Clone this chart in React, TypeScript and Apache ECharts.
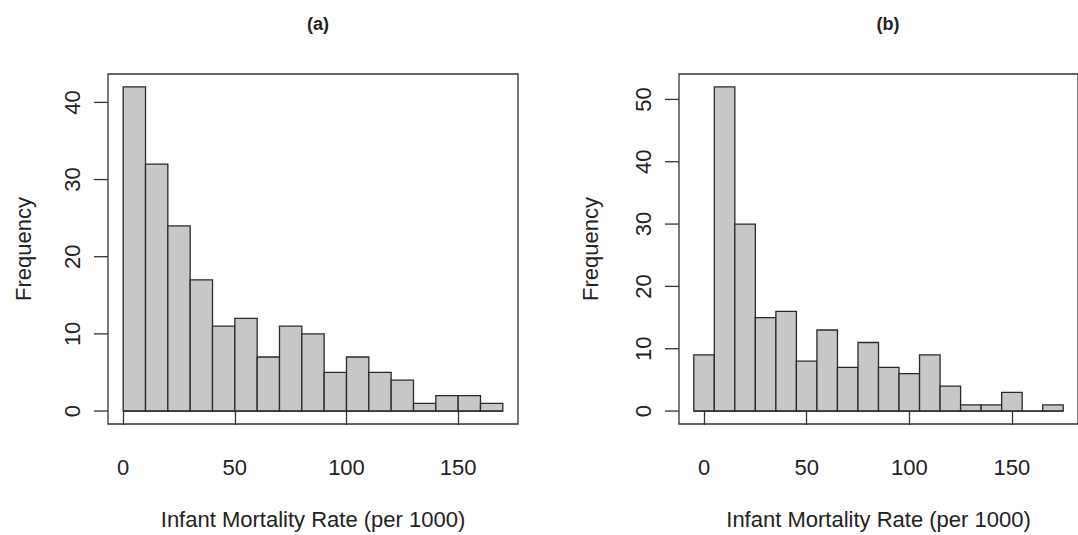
import React, { useEffect, useRef } from "react";
import * as echarts from "echarts";

// Panel (a): bin edges and counts
const breaksA = [0, 10, 20, 30, 40, 50, 60, 70, 80, 90, 100, 110, 120, 130, 140, 150, 160, 170];
const countsA = [42, 32, 24, 17, 11, 12, 7, 11, 10, 5, 7, 5, 4, 1, 2, 2, 1];

// Panel (b): bin edges and counts
const breaksB = [-5, 5, 15, 25, 35, 45, 55, 65, 75, 85, 95, 105, 115, 125, 135, 145, 155, 165, 175];
const countsB = [9, 52, 30, 15, 16, 8, 13, 7, 11, 7, 6, 9, 4, 1, 1, 3, 0, 1];

// Tick labels
const xTicks = [0, 50, 100, 150];
const yTicksA = [0, 10, 20, 30, 40];
const yTicksB = [0, 10, 20, 30, 40, 50];

const titles = ["(a)", "(b)"];
const xName = "Infant Mortality Rate (per 1000)";
const yName = "Frequency";

const FONT = "'Liberation Sans', Arial, Helvetica, sans-serif";
const INK = "#222222";
const LINE = "#333333";

function histData(breaks: number[], counts: number[]) {
  return counts.map((c, i) => [breaks[i], breaks[i + 1], c]);
}

// R-style 4% range extension
function ext(lo: number, hi: number) {
  const d = (hi - lo) * 0.04;
  return [lo - d, hi + d];
}

export default function App() {
  const ref = useRef<HTMLDivElement>(null);
  useEffect(() => {
    document.body.style.margin = "0";
    document.body.style.overflow = "hidden";
    if (!ref.current) return;
    const chart = echarts.init(ref.current, null, { renderer: "svg" });

    const [xa0, xa1] = ext(breaksA[0], breaksA[breaksA.length - 1]);
    const [ya0, ya1] = ext(0, Math.max(...countsA));
    const [xb0, xb1] = ext(breaksB[0], breaksB[breaksB.length - 1]);
    const [yb0, yb1] = ext(0, Math.max(...countsB));

    const renderItem = (params: any, api: any) => {
      const x0 = api.value(0);
      const x1 = api.value(1);
      const c = api.value(2);
      const p0 = api.coord([x0, c]);
      const p1 = api.coord([x1, 0]);
      return {
        type: "group",
        children: [
          {
            type: "rect",
            shape: { x: p0[0], y: p0[1], width: p1[0] - p0[0], height: p1[1] - p0[1] },
            style: { fill: "#c6c7c9", stroke: "#2a2a2a", lineWidth: 1.3 },
          },
          {
            type: "line",
            shape: { x1: p0[0], y1: p1[1], x2: p1[0], y2: p1[1] },
            style: { stroke: "#2a2a2a", lineWidth: 1.3 },
          },
        ],
      };
    };

    const tickRender = (xMin: number) => (params: any, api: any) => {
      const v = api.value(0);
      const p = api.coord([xMin, v]);
      const left = params.coordSys.x;
      return {
        type: "line",
        shape: { x1: left - 14, y1: p[1], x2: left, y2: p[1] },
        style: { stroke: LINE, lineWidth: 1.3 },
      };
    };

    const xAxisBase = (min: number, max: number, gridIndex: number, nameGap: number) => ({
      type: "value",
      gridIndex,
      min,
      max,
      splitLine: { show: false },
      axisLine: { show: false },
      axisTick: {
        show: true,
        length: 14,
        inside: false,
        customValues: xTicks,
        lineStyle: { color: LINE, width: 1.3 },
      },
      axisLabel: {
        customValues: xTicks,
        fontSize: 22,
        fontFamily: FONT,
        color: INK,
        margin: 32,
      },
      name: xName,
      nameLocation: "middle",
      nameGap,
      nameTextStyle: { fontSize: 22, fontFamily: FONT, color: INK },
    });

    const yAxisBase = (min: number, max: number, gridIndex: number, ticks: number[], nameGap: number) => ({
      type: "value",
      gridIndex,
      min,
      max,
      splitLine: { show: false },
      axisLine: { show: false },
      axisTick: { show: false },
      axisLabel: {
        customValues: ticks,
        rotate: 90,
        fontSize: 22,
        fontFamily: FONT,
        color: INK,
        margin: 25,
      },
      name: yName,
      nameLocation: "middle",
      nameRotate: 90,
      nameGap,
      nameTextStyle: { fontSize: 22, fontFamily: FONT, color: INK },
    });

    chart.setOption({
      animation: false,
      backgroundColor: "#ffffff",
      title: [
        {
          text: titles[0],
          left: 313,
          top: 10,
          textAlign: "center",
          textStyle: { fontSize: 18, fontWeight: "bold", fontFamily: FONT, color: INK },
        },
        {
          text: titles[1],
          left: 883,
          top: 10,
          textAlign: "center",
          textStyle: { fontSize: 18, fontWeight: "bold", fontFamily: FONT, color: INK },
        },
      ],
      grid: [
        { left: 108, top: 74, width: 410, height: 352, show: true, borderColor: LINE, borderWidth: 1.3, backgroundColor: "transparent" },
        { left: 679, top: 74, width: 409, height: 352, show: true, borderColor: LINE, borderWidth: 1.3, backgroundColor: "transparent" },
      ],
      xAxis: [xAxisBase(xa0, xa1, 0, 84), xAxisBase(xb0, xb1, 1, 84)],
      yAxis: [yAxisBase(ya0, ya1, 0, yTicksA, 74), yAxisBase(yb0, yb1, 1, yTicksB, 78)],
      series: [
        {
          type: "custom",
          xAxisIndex: 0,
          yAxisIndex: 0,
          renderItem,
          encode: { x: [0, 1], y: 2 },
          data: histData(breaksA, countsA),
        },
        {
          type: "custom",
          xAxisIndex: 1,
          yAxisIndex: 1,
          renderItem,
          encode: { x: [0, 1], y: 2 },
          data: histData(breaksB, countsB),
        },
        {
          type: "custom",
          xAxisIndex: 0,
          yAxisIndex: 0,
          clip: false,
          silent: true,
          renderItem: tickRender(xa0),
          encode: { y: 0 },
          data: yTicksA.map((v) => [v]),
        },
        {
          type: "custom",
          xAxisIndex: 1,
          yAxisIndex: 1,
          clip: false,
          silent: true,
          renderItem: tickRender(xb0),
          encode: { y: 0 },
          data: yTicksB.map((v) => [v]),
        },
      ],
    });
    return () => chart.dispose();
  }, []);
  return <div ref={ref} style={{ width: 1078, height: 535 }} />;
}
